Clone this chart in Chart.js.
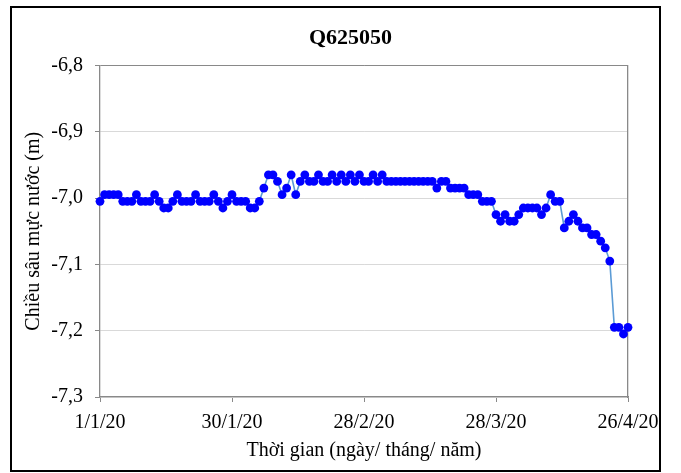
<!DOCTYPE html>
<html>
<head>
<meta charset="utf-8">
<script src="https://cdn.jsdelivr.net/npm/chart.js@4.4.1/dist/chart.umd.min.js"></script>
<style>
  html, body { margin: 0; padding: 0; background: #fff; }
  #frame { position: absolute; left: 10px; top: 6px; width: 647px; height: 462px; border: 2px solid #000; overflow: hidden; background: #fff; }
  #chart { position: absolute; left: -12px; top: -8px; }
</style>
</head>
<body>
<div id="frame"><canvas id="chart" width="681" height="473"></canvas></div>
<script>
// daily water depth, 1/1/20 .. 26/4/20 (m)
const depth = [
  -7.005, -6.995, -6.995, -6.995, -6.995, -7.005, -7.005, -7.005, -6.995, -7.005,
  -7.005, -7.005, -6.995, -7.005, -7.015, -7.015, -7.005, -6.995, -7.005, -7.005,
  -7.005, -6.995, -7.005, -7.005, -7.005, -6.995, -7.005, -7.015, -7.005, -6.995,
  -7.005, -7.005, -7.005, -7.015, -7.015, -7.005,
  -6.985, -6.965, -6.965, -6.975, -6.995, -6.985, -6.965, -6.995, -6.975, -6.965,
  -6.975, -6.975, -6.965, -6.975, -6.975, -6.965, -6.975, -6.965, -6.975, -6.965,
  -6.975, -6.965, -6.975, -6.975, -6.965, -6.975, -6.965, -6.975, -6.975, -6.975,
  -6.975, -6.975, -6.975, -6.975, -6.975, -6.975, -6.975, -6.975, -6.985, -6.975,
  -6.975, -6.985, -6.985, -6.985, -6.985, -6.995, -6.995, -6.995, -7.005, -7.005,
  -7.005, -7.025, -7.035, -7.025, -7.035, -7.035, -7.025, -7.015, -7.015, -7.015,
  -7.015, -7.025, -7.015, -6.995, -7.005, -7.005, -7.045, -7.035, -7.025, -7.035,
  -7.045, -7.045, -7.055, -7.055, -7.065, -7.075, -7.095, -7.195, -7.195, -7.205, -7.195
];
const days = depth.map((_, i) => i);

const xTickDays   = [0, 29, 58, 87, 116];
const xTickLabels = ['1/1/20', '30/1/20', '28/2/20', '28/3/20', '26/4/20'];
const yTickValues = [-7.3, -7.2, -7.1, -7.0, -6.9, -6.8];

const axisGray = '#898989';
const gridGray = '#d9d9d9';
const serif = "'Liberation Serif', 'Times New Roman', serif";

Chart.defaults.font.family = serif;
Chart.defaults.color = '#000';

new Chart(document.getElementById('chart'), {
  type: 'line',
  data: {
    labels: days,
    datasets: [{
      label: 'Q625050',
      data: depth,
      borderColor: '#5B9BD5',
      borderWidth: 1.6,
      backgroundColor: '#0000FF',
      pointBackgroundColor: '#0000FF',
      pointBorderColor: '#0000FF',
      pointBorderWidth: 0,
      pointRadius: 4.4,
      tension: 0,
      fill: false,
      clip: false,
    }]
  },
  options: {
    responsive: false,
    animation: false,
    layout: { padding: { left: 20, right: 0, top: 0, bottom: 0 } },
    plugins: {
      legend: { display: false },
      tooltip: { enabled: false },
      title: {
        display: true,
        text: 'Q625050',
        color: '#000',
        font: { family: serif, size: 22, weight: 'bold' },
        padding: { top: 25, bottom: 14 }
      }
    },
    scales: {
      x: {
        type: 'linear',
        min: 0,
        max: 116,
        afterFit: s => { s.height = 76; },
        afterBuildTicks: s => { s.ticks = xTickDays.map(v => ({ value: v })); },
        ticks: {
          autoSkip: false,
          maxRotation: 0,
          padding: 9,
          font: { size: 20 },
          callback: v => xTickLabels[xTickDays.indexOf(v)]
        },
        grid: { drawOnChartArea: false, color: axisGray, tickLength: 5 },
        border: { color: axisGray, width: 1.3 },
        title: {
          display: true,
          text: 'Thời gian (ngày/ tháng/ năm)',
          font: { size: 20 },
          padding: { top: 0, bottom: 10 }
        }
      },
      y: {
        min: -7.3,
        max: -6.8,
        afterFit: s => { s.width = 80; },
        afterBuildTicks: s => { s.ticks = yTickValues.map(v => ({ value: v })); },
        ticks: {
          padding: 12,
          font: { size: 20 },
          callback: v => v.toFixed(1).replace('.', ',')
        },
        grid: {
          color: ctx => Math.abs(ctx.tick.value + 6.8) < 1e-6 ? axisGray : gridGray,
          tickColor: axisGray,
          tickLength: 5
        },
        border: { color: axisGray, width: 1.3 },
        title: {
          display: true,
          text: 'Chiều sâu mực nước (m)',
          font: { size: 20 },
          padding: { top: 2, bottom: 0 }
        }
      },
      yRight: {
        type: 'linear',
        position: 'right',
        min: -7.3,
        max: -6.8,
        afterFit: s => { s.width = 53; },
        grid: { display: false },
        ticks: { display: false },
        border: { color: axisGray, width: 1.3 }
      }
    }
  }
});
</script>
</body>
</html>
